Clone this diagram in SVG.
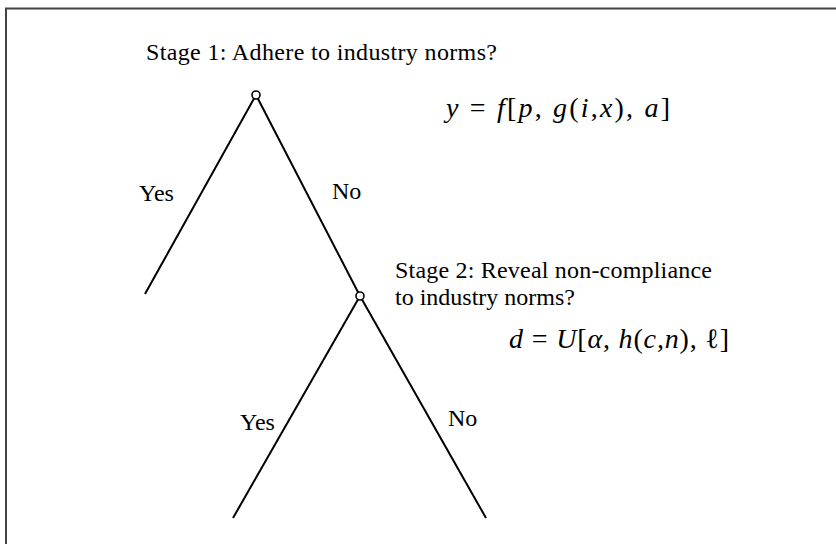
<svg xmlns="http://www.w3.org/2000/svg" width="836" height="544" viewBox="0 0 836 544">
  <style>
    .t{font-family:"Liberation Serif","DejaVu Serif",serif;font-size:24px;fill:#000}
    .m{font-family:"Liberation Serif","DejaVu Serif",serif;font-size:28px;fill:#000}
    .i{font-style:italic}
    .edge{stroke:#000;stroke-width:2;fill:none;stroke-linecap:butt}
    .node{fill:#fff;stroke:#000;stroke-width:1.6}
  </style>
  <rect x="0" y="0" width="836" height="544" fill="#fff"/>
  <path d="M6,544 V8.5 H836" fill="none" stroke="#444" stroke-width="2"/>

  <g id="connectors">
    <line class="edge" x1="256" y1="95" x2="145" y2="294"/>
    <line class="edge" x1="256" y1="95" x2="360" y2="296"/>
    <line class="edge" x1="360" y1="296" x2="233" y2="518"/>
    <line class="edge" x1="360" y1="296" x2="486" y2="518"/>
    <text class="t" x="139" y="201">Yes</text>
    <text class="t" x="332" y="199">No</text>
    <text class="t" x="240" y="430">Yes</text>
    <text class="t" x="448" y="426">No</text>
  </g>

  <g id="stage1">
    <circle class="node" cx="256" cy="95" r="4"/>
    <text class="t" x="146" y="60" textLength="351">Stage 1: Adhere to industry norms?</text>
  </g>

  <g id="stage2">
    <circle class="node" cx="360" cy="296" r="4"/>
    <text class="t" x="395" y="278" textLength="317">Stage 2: Reveal non-compliance</text>
    <text class="t" x="395" y="305">to industry norms?</text>
  </g>

  <g id="equation1">
    <text class="m" x="446" y="117" textLength="224"><tspan class="i">y</tspan> = <tspan class="i">f</tspan>[<tspan class="i">p</tspan>, <tspan class="i">g</tspan>(<tspan class="i">i</tspan>,<tspan class="i">x</tspan>), <tspan class="i">a</tspan>]</text>
  </g>

  <g id="equation2">
    <text class="m" x="509" y="348" textLength="220"><tspan class="i">d</tspan> = <tspan class="i">U</tspan>[<tspan class="i">α</tspan>, <tspan class="i">h</tspan>(<tspan class="i">c</tspan>,<tspan class="i">n</tspan>), ℓ]</text>
  </g>
</svg>
